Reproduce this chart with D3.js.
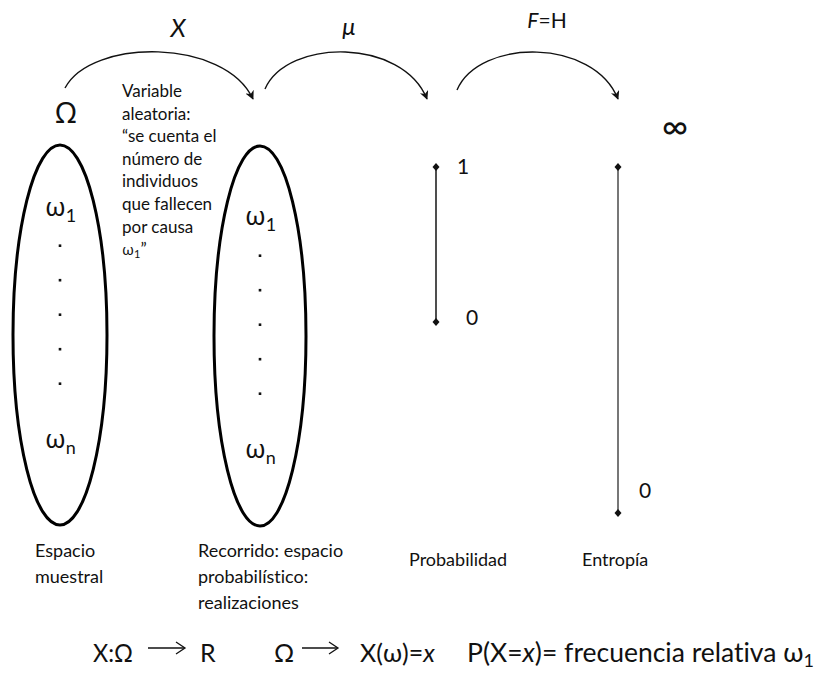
<!DOCTYPE html>
<html lang="es">
<head>
<meta charset="UTF-8" />
<title>Variable aleatoria, probabilidad y entropía</title>
<script src="https://cdnjs.cloudflare.com/ajax/libs/d3/7.8.2/d3.min.js"></script>
<style>
  body { margin: 0; padding: 0; background: #fff; }
  svg { display: block; }
  text { fill: #111; font-family: Lato, "Noto Sans", sans-serif; font-variant-ligatures: none; }
  .greek { font-family: "Noto Sans", "DejaVu Sans", sans-serif; }
</style>
</head>
<body>
<svg id="chart"></svg>
<script>
// ---------- data ----------
const sampleItems = ["ω", ".", ".", ".", ".", ".", "ω"];   // contents of each ellipse
const itemSubs    = ["1", "", "", "", "", "", "n"];
const mapLabels   = [["X", ""], ["μ", ""], ["F", "=H"]];  // [italic part, upright part]
const probTicks   = [1, 0];
const entropyTicks = [1, 0];
const entropyTickLabels = ["∞", "0"];
const columnLabels = [
  ["Espacio", "muestral"],
  ["Recorrido: espacio", "probabilístico:", "realizaciones"],
  ["Probabilidad"],
  ["Entropía"]
];
const noteLines = ["Variable", "aleatoria:", "“se cuenta el", "número de",
                   "individuos", "que fallecen", "por causa"];

const width = 822, height = 673;
const svg = d3.select("#chart").attr("width", width).attr("height", height);

svg.append("defs").append("marker")
  .attr("id", "head")
  .attr("viewBox", "0 -5 10 10")
  .attr("refX", 9).attr("refY", 0)
  .attr("markerWidth", 9).attr("markerHeight", 9)
  .attr("markerUnits", "userSpaceOnUse")
  .attr("orient", "auto")
  .append("path")
  .attr("d", "M0,-5 L10,0 L0,5 L3,0 Z")
  .attr("fill", "#111");

// ---------- curved mapping arrows ----------
const arcs = [
  { x0: 65, y0: 88, x1: 253, y1: 99 },
  { x0: 265, y0: 89, x1: 427, y1: 99 },
  { x0: 457, y0: 90, x1: 618, y1: 99 }
];
const arcPath = d => {
  const w = d.x1 - d.x0;
  return `M${d.x0},${d.y0} C${d.x0 + w * 0.14},${38} ${d.x1 - w * 0.15},${38} ${d.x1},${d.y1}`;
};
svg.append("g").selectAll("path")
  .data(arcs).join("path")
  .attr("d", arcPath)
  .attr("fill", "none")
  .attr("stroke", "#111")
  .attr("stroke-width", 1.4)
  .attr("marker-end", "url(#head)");

const labelPos = [{ x: 178, y: 37, size: 25 }, { x: 349, y: 35, size: 24 }, { x: 547, y: 28, size: 21 }];
mapLabels.forEach((l, i) => {
  const p = labelPos[i];
  const t = svg.append("text")
    .attr("x", p.x).attr("y", p.y)
    .attr("text-anchor", "middle")
    .attr("font-size", p.size);
  t.append("tspan").attr("font-style", "italic").text(l[0]);
  if (l[1]) t.append("tspan").text(l[1]);
});

// ---------- Ω and the two ellipses ----------
svg.append("text").attr("class", "greek")
  .attr("x", 66).attr("y", 123)
  .attr("text-anchor", "middle")
  .attr("font-size", 29)
  .text("Ω");

const ellipses = [
  { cx: 60, cy: 335, rx: 47, ry: 190, top: 216, dotsFrom: 247, dotsTo: 385, bottom: 448 },
  { cx: 260, cy: 336, rx: 46, ry: 190, top: 225, dotsFrom: 257, dotsTo: 395, bottom: 458 }
];

ellipses.forEach(e => {
  const g = svg.append("g");
  g.append("ellipse")
    .attr("cx", e.cx).attr("cy", e.cy)
    .attr("rx", e.rx).attr("ry", e.ry)
    .attr("fill", "none")
    .attr("stroke", "#000")
    .attr("stroke-width", 3);

  const dotIdx = d3.range(1, sampleItems.length - 1);
  const yDot = d3.scalePoint().domain(dotIdx).range([e.dotsFrom, e.dotsTo]);

  sampleItems.forEach((s, i) => {
    if (s === ".") {
      g.append("rect")
        .attr("x", e.cx - 1.3).attr("y", yDot(i) - 2.6)
        .attr("width", 2.6).attr("height", 2.6)
        .attr("fill", "#111");
    } else {
      const y = i === 0 ? e.top : e.bottom;
      const t = g.append("text").attr("class", "greek")
        .attr("x", e.cx - 15).attr("y", y)
        .attr("font-size", 26);
      t.append("tspan").text(s);
      t.append("tspan").attr("font-family", "Lato, sans-serif").attr("font-size", 18)
        .attr("dy", 6).text(itemSubs[i]);
    }
  });
});

// ---------- note on the random variable ----------
const note = svg.append("text")
  .attr("x", 122).attr("y", 97)
  .attr("font-size", 17);
noteLines.forEach((line, i) => {
  note.append("tspan").attr("x", 122).attr("dy", i === 0 ? 0 : 22.6).text(line);
});
const last = note.append("tspan").attr("x", 122).attr("dy", 22.6);
last.append("tspan").attr("class", "greek").attr("font-size", 15).text("ω");
last.append("tspan").attr("font-size", 11).attr("dy", 3).text("1");
last.append("tspan").attr("dy", -3).text("”");

// ---------- probability and entropy scales ----------
function diamond(g, x, y) {
  g.append("path")
    .attr("d", `M${x},${y - 4} L${x + 3.5},${y} L${x},${y + 4} L${x - 3.5},${y} Z`)
    .attr("fill", "#111");
}

const probX = 436;
const yProb = d3.scaleLinear().domain([0, 1]).range([322, 167]);
const gProb = svg.append("g");
gProb.append("line")
  .attr("x1", probX).attr("x2", probX)
  .attr("y1", yProb(1)).attr("y2", yProb(0))
  .attr("stroke", "#222").attr("stroke-width", 1.6);
probTicks.forEach(v => {
  diamond(gProb, probX, yProb(v));
  gProb.append("text")
    .attr("x", probX + (v === 1 ? 21 : 30))
    .attr("y", yProb(v) + (v === 1 ? 7 : 3))
    .attr("font-size", 21)
    .text(String(v));
});

const entX = 618;
const yEnt = d3.scaleLinear().domain([0, 1]).range([513, 167]);
const gEnt = svg.append("g");
gEnt.append("line")
  .attr("x1", entX).attr("x2", entX)
  .attr("y1", yEnt(1)).attr("y2", yEnt(0))
  .attr("stroke", "#555").attr("stroke-width", 1.6);
entropyTicks.forEach((v, i) => {
  diamond(gEnt, entX, yEnt(v));
  if (v === 0) {
    gEnt.append("text")
      .attr("x", entX + 21).attr("y", yEnt(v) - 15)
      .attr("font-size", 21)
      .text(entropyTickLabels[i]);
  } else {
    gEnt.append("text").attr("font-family", "DejaVu Sans, sans-serif")
      .attr("x", entX + 57).attr("y", yEnt(v) - 28)
      .attr("text-anchor", "middle")
      .attr("font-size", 36)
      .text(entropyTickLabels[i]);
  }
});

// ---------- column captions ----------
const captionPos = [{ x: 35, y: 557 }, { x: 198, y: 557 }, { x: 409, y: 566 }, { x: 582, y: 566 }];
columnLabels.forEach((lines, i) => {
  const t = svg.append("text")
    .attr("x", captionPos[i].x).attr("y", captionPos[i].y)
    .attr("font-size", 18);
  lines.forEach((line, j) => {
    t.append("tspan").attr("x", captionPos[i].x).attr("dy", j === 0 ? 0 : 26).text(line);
  });
});

// ---------- formula line ----------
const fy = 662;
const fs = 25;
function arrow(x0, x1, y) {
  svg.append("line").attr("x1", x0).attr("x2", x1 - 1).attr("y1", y).attr("y2", y)
    .attr("stroke", "#111").attr("stroke-width", 1.3);
  svg.append("path")
    .attr("d", `M${x1 - 9},${y - 6} L${x1},${y} L${x1 - 9},${y + 6}`)
    .attr("fill", "none").attr("stroke", "#111").attr("stroke-width", 1.3);
}

svg.append("text").attr("x", 93).attr("y", fy).attr("font-size", fs)
  .attr("textLength", 40).attr("lengthAdjust", "spacingAndGlyphs")
  .text("X:Ω");
arrow(148, 185, fy - 14);
svg.append("text").attr("x", 200).attr("y", fy).attr("font-size", fs).text("R");
svg.append("text").attr("x", 274).attr("y", fy).attr("font-size", fs).text("Ω");
arrow(302, 338, fy - 14);
const fx = svg.append("text").attr("x", 360).attr("y", fy).attr("font-size", fs);
fx.append("tspan").text("X(ω)=");
fx.append("tspan").attr("font-style", "italic").text("x");

const fp = svg.append("text").attr("x", 467).attr("y", fy).attr("font-size", 26.5);
fp.append("tspan").text("P(X=");
fp.append("tspan").attr("font-style", "italic").text("x");
fp.append("tspan").text(")= frecuencia relativa ω");
fp.append("tspan").attr("font-size", 18).attr("dy", 5).text("1");
</script>
</body>
</html>
